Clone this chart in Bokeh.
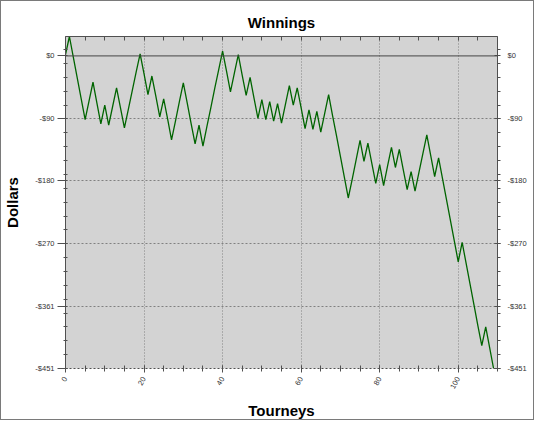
import math
from bokeh.plotting import figure
from bokeh.models import Range1d, LinearAxis, FixedTicker, Span
from bokeh.embed import file_html
from bokeh.resources import INLINE

# ---- data ----
tourneys = list(range(110))
winnings = [
    2, 28, -2, -32, -62, -92, -65, -38, -68, -98,
    -71, -100, -73, -46, -75, -104, -77, -50, -23, 3,
    -26, -56, -29, -58, -88, -62, -91, -121, -94, -66,
    -39, -68, -98, -127, -100, -130, -102, -75, -47, -20,
    7, -22, -52, -25, 2, -28, -57, -31, -61, -90,
    -63, -92, -66, -94, -69, -97, -70, -43, -71, -46,
    -75, -105, -78, -106, -80, -110, -83, -56, -86, -115,
    -145, -175, -205, -178, -150, -122, -152, -126, -155, -184,
    -157, -187, -159, -132, -161, -135, -164, -193, -167, -195,
    -168, -141, -114, -144, -174, -147, -177, -207, -237, -267,
    -297, -269, -299, -329, -359, -389, -418, -391, -421, -451,
]
y_ticks = [0, -90, -180, -270, -361, -451]
y_tick_labels = ["$0", "-$90", "-$180", "-$270", "-$361", "-$451"]
x_ticks = [0, 20, 40, 60, 80, 100]

y_minor = [-451 + 20 * k for k in range(24)]
x_minor = list(range(0, 111, 5))

FONT = "Liberation Sans"
AX = "#505050"

p = figure(width=534, height=420,
           x_range=Range1d(0, 110), y_range=Range1d(-451, 28),
           output_backend="svg", toolbar_location=None,
           title="Winnings",
           min_border_left=58, min_border_right=38,
           min_border_top=35, min_border_bottom=53)
p.styles = {"border": "1px solid #7a7a7a"}
p.background_fill_color = "#d3d3d3"
p.border_fill_color = "white"
p.outline_line_color = None

p.title.text_font = FONT
p.title.text_font_size = "15px"
p.title.text_font_style = "bold"
p.title.text_color = "black"
p.title.align = "center"
p.title.offset = -10
p.title.standoff = 12

# grids
p.xgrid.ticker = FixedTicker(ticks=x_ticks)
p.xgrid.grid_line_color = "#808080"
p.xgrid.grid_line_dash = "1 2"
p.ygrid.ticker = FixedTicker(ticks=y_ticks[1:])
p.ygrid.grid_line_color = "#808080"
p.ygrid.grid_line_dash = "2 2"

p.add_layout(Span(location=0, dimension="width", line_color="#454545", line_width=1))

# line
p.line(tourneys, winnings, line_color="#006400", line_width=1.3)

overrides = {t: l for t, l in zip(y_ticks, y_tick_labels)}

def style_common(ax):
    ax.axis_line_color = AX
    ax.major_tick_line_color = AX
    ax.minor_tick_line_color = AX
    ax.major_label_text_font = FONT
    ax.major_label_text_font_size = "7.5px"
    ax.major_label_text_color = "#333333"

# left axis
la = p.yaxis[0]
la.ticker = FixedTicker(ticks=y_ticks, minor_ticks=y_minor)
la.major_label_overrides = overrides
style_common(la)
la.major_tick_out = 8
la.major_tick_in = 2
la.minor_tick_out = 2
la.minor_tick_in = 2
la.major_label_standoff = 3
la.axis_label = "Dollars"
la.axis_label_text_font = FONT
la.axis_label_text_font_size = "15px"
la.axis_label_text_font_style = "bold"
la.axis_label_text_color = "black"
la.axis_label_standoff = 11

# right axis
ra = LinearAxis(ticker=FixedTicker(ticks=y_ticks, minor_ticks=y_minor),
                major_label_overrides=overrides)
style_common(ra)
ra.major_tick_out = 3
ra.major_tick_in = 3
ra.minor_tick_out = 3
ra.minor_tick_in = 0
ra.major_label_standoff = 7
p.add_layout(ra, "right")

# bottom axis
ba = p.xaxis[0]
ba.ticker = FixedTicker(ticks=x_ticks, minor_ticks=x_minor)
style_common(ba)
ba.axis_line_dash = "2 2"
ba.major_tick_out = 4
ba.major_tick_in = 3
ba.minor_tick_out = 3
ba.minor_tick_in = 3
ba.major_label_orientation = math.pi / 3
ba.major_label_standoff = 5
ba.axis_label = "Tourneys"
ba.axis_label_text_font = FONT
ba.axis_label_text_font_size = "15px"
ba.axis_label_text_font_style = "bold"
ba.axis_label_text_color = "black"
ba.axis_label_standoff = 8

# top axis: ticks only (all as minor ticks, so no labels are drawn)
ta = LinearAxis(ticker=FixedTicker(ticks=[], minor_ticks=x_minor))
style_common(ta)
ta.major_tick_line_color = None
ta.minor_tick_in = 4
ta.minor_tick_out = 0
ta.major_label_standoff = 0
p.add_layout(ta, "above")

open("out.html", "w").write(file_html(p, INLINE))
